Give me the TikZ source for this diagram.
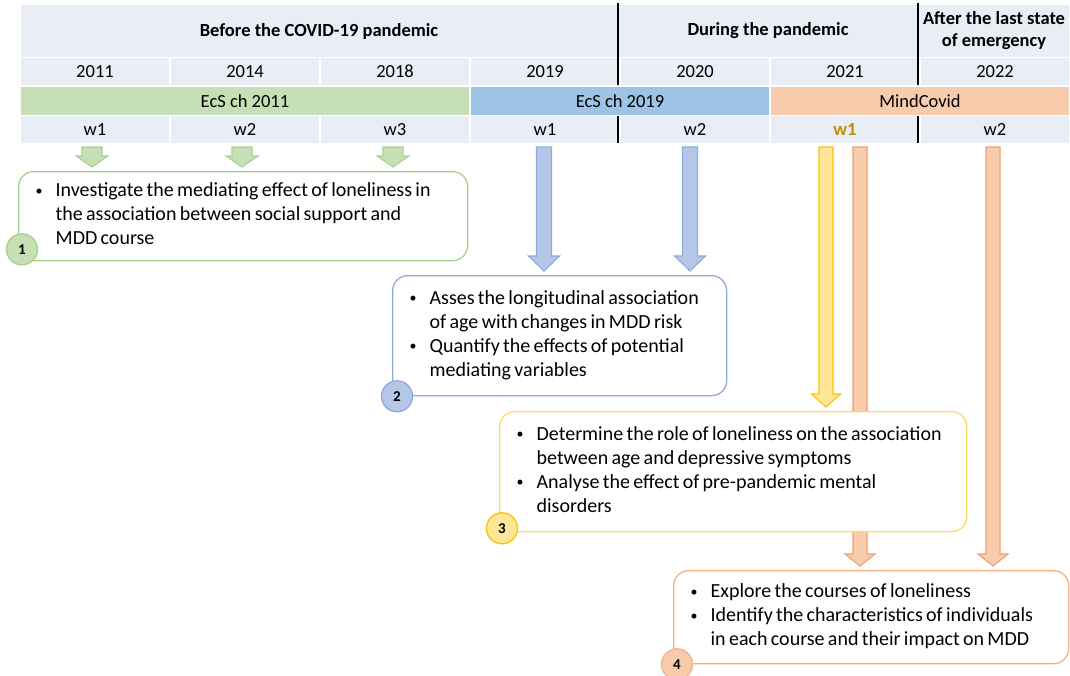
\documentclass[tikz,border=0pt]{standalone}
\usepackage{fontspec}
\setmainfont{Carlito}
\usetikzlibrary{calc,backgrounds}

\definecolor{hdrfill}{RGB}{233,237,245}
\definecolor{cohgreen}{HTML}{C5E0B4}
\definecolor{cohblue}{HTML}{9DC3E6}
\definecolor{cohorange}{HTML}{F8CBAD}
\definecolor{wgold}{HTML}{BF9000}
\definecolor{lngreen}{HTML}{A9D18E}
\definecolor{lnblue}{HTML}{8FAADC}
\definecolor{fillblue}{HTML}{B4C7E7}
\definecolor{lnyellow}{HTML}{FFD966}
\definecolor{arryellow}{HTML}{FFC000}
\definecolor{fillyellow}{HTML}{FFE699}
\definecolor{lnorange}{HTML}{F4B183}
\definecolor{arrorange}{HTML}{F0A070}

% fat arrow: [style]{start}{target}{shaft half width}{head half width}{head length}
\newcommand{\blockarrow}[6][]{%
  \draw[#1] let \p1=(#2), \p2=(#3) in
    (\x1-#4,\y1) -- (\x1-#4,\y2+4pt+#6) -- (\x1-#5,\y2+4pt+#6) -- (\x1,\y2+4pt)
    -- (\x1+#5,\y2+4pt+#6) -- (\x1+#4,\y2+4pt+#6) -- (\x1+#4,\y1) -- cycle;}

\newcommand{\blt}{{\fontsize{14}{14}\selectfont\raisebox{0.12em}{\textbullet}}}
\newcommand{\goaltext}[1]{\fontsize{20}{24}\selectfont
  \raisebox{-2pt}{\begin{tabular}{@{}p{20pt}@{}l@{}}#1\end{tabular}}}

\begin{document}
\begin{tikzpicture}[x=1pt,y=-1pt,
    cell/.style={fill=hdrfill, minimum width=148, minimum height=27, inner sep=0pt,
      font=\fontsize{18.5}{22}\selectfont},
    headcell/.style={cell, minimum height=52, align=center,
      font=\fontsize{18.5}{22}\selectfont\bfseries},
    sepline/.style={black, line width=1.6pt},
    goal/.style={draw, fill=white, rounded corners=15pt, line width=1.3pt, anchor=north west,
      inner xsep=17pt, inner ysep=0pt, align=left},
    num/.style={circle, draw, line width=1.3pt, minimum size=31, inner sep=0pt,
      font=\fontsize{15}{15}\selectfont\bfseries},
    arrgreen/.style={fill=cohgreen, draw=lngreen, line width=1.1pt},
    arrblue/.style={fill=fillblue, draw=lnblue, line width=1.1pt},
    arryel/.style={fill=fillyellow, draw=arryellow, line width=1.1pt},
    arrorg/.style={fill=cohorange, draw=arrorange, line width=1.1pt}]

    \useasboundingbox (0,0) rectangle (1070,675);

    % header rows
    \node[headcell, minimum width=596] (before) at (319,31) {Before the COVID-19 pandemic};
    \node[headcell, minimum width=298] (during) at (768,31) {During the pandemic};
    \node[headcell, minimum width=150] (after) at (994,31) {After the last state\\of emergency};

    \foreach \yr [count=\i] in {2011,2014,2018,2019,2020,2021,2022}
        \node[cell] (yr\i) at (150*\i-55,71.5) {\yr};

    \node[cell, fill=cohgreen, minimum width=448, minimum height=28] (ecs11) at (245,101) {EcS ch 2011};
    \node[cell, fill=cohblue, minimum width=298, minimum height=28] (ecs19) at (620,101) {EcS ch 2019};
    \node[cell, fill=cohorange, minimum width=298, minimum height=28] (mind) at (920,101) {MindCovid};

    \foreach \wv [count=\i] in {w1,w2,w3,w1,w2,{\textcolor{wgold}{\bfseries w1}},w2}
        \node[cell] (wv\i) at (150*\i-55,129.5) {\wv};

    \draw[sepline] (618,3) -- (618,85);
    \draw[sepline] (918,3) -- (918,85);
    \draw[sepline] (618,116) -- (618,143);
    \draw[sepline] (918,116) -- (918,143);

    % goal boxes
    \node[goal, draw=lngreen, text width=415, minimum height=89] (g1) at (18,171) {\goaltext{%
        \blt & Investigate the mediating effect of loneliness in\\
        & the association between social support and\\
        & MDD course}};
    \node[goal, draw=lnblue, text width=300, minimum height=120] (g2) at (392,275) {\goaltext{%
        \blt & Asses the longitudinal association\\
        & of age with changes in MDD risk\\
        \blt & Quantify the effects of potential\\
        & mediating variables}};
    \node[goal, draw=lnyellow, text width=433, minimum height=120] (g3) at (499,411) {\goaltext{%
        \blt & Determine the role of loneliness on the association\\
        & between age and depressive symptoms\\
        \blt & Analyse the effect of pre-pandemic mental\\
        & disorders}};
    \node[goal, draw=lnorange, text width=361, minimum height=93] (g4) at (673,570) {\goaltext{%
        \blt & Explore the courses of loneliness\\
        \blt & Identify the characteristics of individuals\\
        & in each course and their impact on MDD}};

    \node[num, fill=cohgreen, draw=lngreen] (n1) at ([xshift=4pt,yshift=12pt]g1.south west) {1};
    \node[num, fill=fillblue, draw=lnblue] (n2) at ([xshift=5pt]g2.south west) {2};
    \node[num, fill=fillyellow, draw=arryellow] (n3) at ([xshift=3pt,yshift=4pt]g3.south west) {3};
    \node[num, fill=cohorange, draw=lnorange] (n4) at ([xshift=4pt]g4.south west) {4};

    % starting points of the arrows
    \coordinate (sa) at (92,147);
    \coordinate (sb) at (242,147);
    \coordinate (sc) at (393,147);
    \coordinate (sd) at (544,147);
    \coordinate (se) at (690,147);
    \coordinate (sf) at (826,147);
    \coordinate (sg) at (860,147);
    \coordinate (sh) at (993,147);

    % arrows behind the boxes
    \begin{scope}[on background layer]
        \blockarrow[arrgreen]{sa}{sa |- g1.north}{10pt}{16pt}{11pt}
        \blockarrow[arrgreen]{sb}{sb |- g1.north}{10pt}{16pt}{11pt}
        \blockarrow[arrgreen]{sc}{sc |- g1.north}{10pt}{16pt}{11pt}
        \blockarrow[arrblue]{sd}{sd |- g2.north}{7.5pt}{15.5pt}{15pt}
        \blockarrow[arrblue]{se}{se |- g2.north}{7.5pt}{15.5pt}{15pt}
        \blockarrow[arryel]{sf}{sf |- g3.north}{7pt}{14.5pt}{13pt}
        \blockarrow[arrorg]{sg}{sg |- g4.north}{7pt}{15pt}{12pt}
        \blockarrow[arrorg]{sh}{sh |- g4.north}{7pt}{15pt}{12pt}
    \end{scope}

\end{tikzpicture}
\end{document}
